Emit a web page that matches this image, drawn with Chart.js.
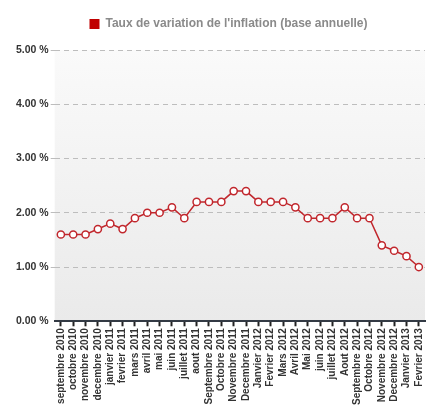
<!DOCTYPE html>
<html>
<head>
<meta charset="utf-8">
<script src="https://cdn.jsdelivr.net/npm/chart.js@4"></script>
<style>
  html, body { margin: 0; padding: 0; background: #fff; }
  #wrap { width: 447px; height: 411px; }
</style>
</head>
<body>
<div id="wrap"><canvas id="inflationChart" width="447" height="411"></canvas></div>
<script>
const months = [
  'septembre 2010', 'octobre 2010', 'novembre 2010', 'decembre 2010',
  'janvier 2011', 'fevrier 2011', 'mars 2011', 'avril 2011', 'mai 2011',
  'juin 2011', 'juillet 2011', 'aout 2011', 'Septembre 2011', 'Octobre 2011',
  'Novembre 2011', 'Decembre 2011', 'Janvier 2012', 'Fevrier 2012',
  'Mars 2012', 'Avril 2012', 'Mai 2012', 'juin 2012', 'juillet 2012',
  'Aout 2012', 'Septembre 2012', 'Octobre 2012', 'Novembre 2012',
  'Decembre 2012', 'Janvier 2013', 'Fevrier 2013',
]
const inflationRate = [
  1.6, 1.6, 1.6, 1.7, 1.8, 1.7, 1.9, 2.0, 2.0, 2.1, 1.9, 2.2, 2.2, 2.2, 2.4,
  2.4, 2.2, 2.2, 2.2, 2.1, 1.9, 1.9, 1.9, 2.1, 1.9, 1.9, 1.4, 1.3, 1.2, 1.0,
]
const seriesName = "Taux de variation de l'inflation (base annuelle)"
const yMin = 0
const yMax = 5
const yStep = 1

// gray gradient behind the plot area
const plotBackground = {
  id: 'plotBackground',
  beforeDraw(chart) {
    const { ctx, chartArea: a } = chart
    const grad = ctx.createLinearGradient(0, a.top, 0, a.bottom)
    grad.addColorStop(0, '#fafafa')
    grad.addColorStop(1, '#eaeaea')
    ctx.save()
    ctx.fillStyle = grad
    ctx.fillRect(a.left, a.top, a.right - a.left, a.bottom - a.top)
    ctx.restore()
  },
}

// more room under the legend, and nudge it a little to the right
const legendTweak = {
  id: 'legendTweak',
  beforeInit(chart) {
    const legend = chart.legend
    const fit = legend.fit
    legend.fit = function () {
      fit.call(legend)
      this.height += 10
    }
    const draw = legend.draw
    legend.draw = function () {
      chart.ctx.save()
      chart.ctx.translate(9, 0)
      draw.call(legend)
      chart.ctx.restore()
    }
  },
}

const ctx = document.getElementById('inflationChart').getContext('2d')
const inflationChart = new Chart(ctx, {
  type: 'line',
  data: {
    labels: months,
    datasets: [
      {
        label: seriesName,
        data: inflationRate,
        borderColor: '#c1272d',
        borderWidth: 1.5,
        backgroundColor: '#ffffff',
        pointRadius: 3.6,
        pointBorderWidth: 1.5,
        pointBackgroundColor: '#ffffff',
        pointBorderColor: '#c1272d',
        tension: 0,
      },
    ],
  },
  options: {
    responsive: false,
    animation: false,
    devicePixelRatio: 1,
    layout: { padding: { left: 14, right: 22, top: 4, bottom: 4 } },
    plugins: {
      tooltip: { enabled: false },
      legend: {
        position: 'top',
        labels: {
          boxWidth: 10,
          boxHeight: 10,
          padding: 14,
          color: '#8a8a8a',
          font: { family: 'Liberation Sans, Arial', size: 12, weight: 'bold' },
          generateLabels: (chart) => [{
            text: seriesName,
            fillStyle: '#c00000',
            strokeStyle: '#c00000',
            fontColor: '#8a8a8a',
            lineWidth: 0,
            datasetIndex: 0,
          }],
        },
      },
    },
    scales: {
      x: {
        offset: true,
        grid: {
          drawOnChartArea: false,
          drawTicks: true,
          tickLength: 5,
          tickColor: '#222',
          tickWidth: 2,
        },
        border: { display: true, color: '#333a44', width: 2 },
        ticks: {
          autoSkip: false,
          minRotation: 90,
          maxRotation: 90,
          padding: 2,
          color: '#333',
          font: { family: 'Liberation Sans, Arial', size: 10, weight: 'bold' },
        },
      },
      y: {
        min: yMin,
        max: yMax,
        grid: {
          color: (c) => (c.tick && c.tick.value === 0 ? 'rgba(0,0,0,0)' : '#bdbdbd'),
          lineWidth: 1,
          drawTicks: true,
          tickLength: 4,
        },
        border: { display: true, color: 'rgba(0,0,0,0)', width: 0, dash: [5, 4] },
        ticks: {
          stepSize: yStep,
          padding: 2,
          color: '#333',
          font: { family: 'Liberation Sans, Arial', size: 10.5, weight: 'bold' },
          callback: (v) => v.toFixed(2) + ' %',
        },
      },
    },
  },
  plugins: [plotBackground, legendTweak],
})
</script>
</body>
</html>
